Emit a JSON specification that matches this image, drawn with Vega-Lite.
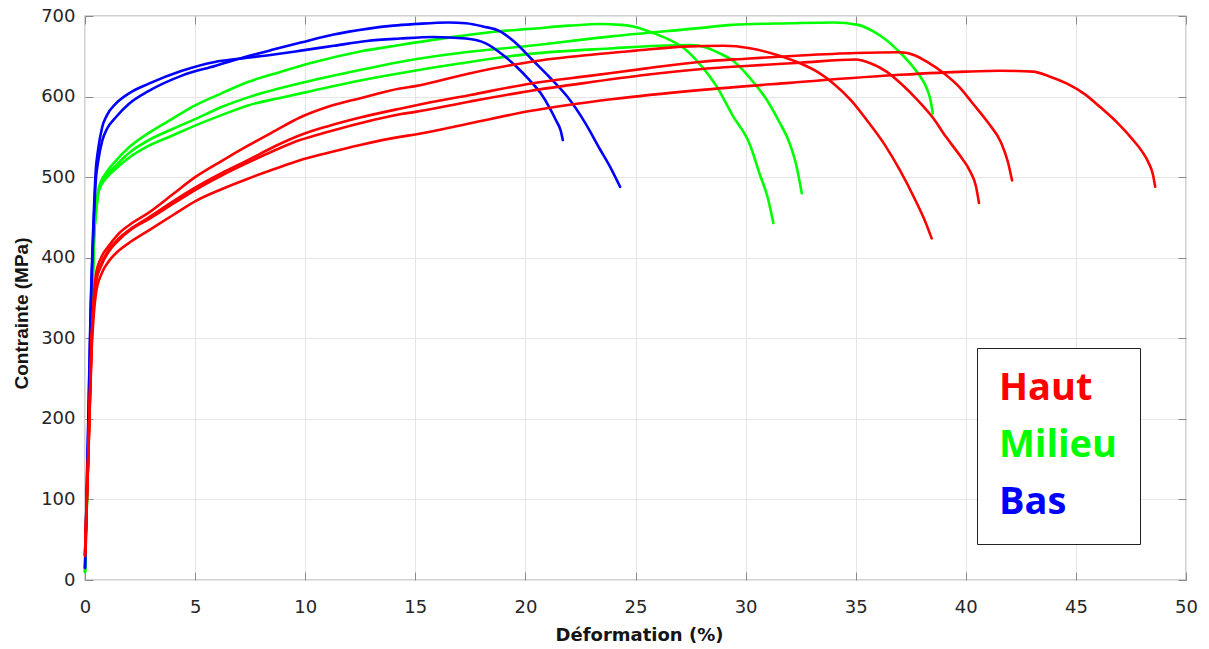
{
  "$schema": "https://vega.github.io/schema/vega-lite/v6.json",
  "width": 1101,
  "height": 564,
  "autosize": {"type": "none"},
  "padding": {"left": 85, "top": 16, "right": 23, "bottom": 69},
  "background": "white",
  "config": {
    "view": {"stroke": "#c4c4c4", "strokeWidth": 1.5},
    "axis": {"gridColor": "#e6e6e6", "gridWidth": 1, "tickColor": "#8a8a8a", "tickWidth": 1, "labelColor": "#262626", "titleColor": "#151515", "labelFlush": false}
  },
  "data": {"values": [
    {"groupe":"Milieu","essai":"M1","deformation":0,"contrainte":10},
    {"groupe":"Milieu","essai":"M1","deformation":0.15,"contrainte":160},
    {"groupe":"Milieu","essai":"M1","deformation":0.3,"contrainte":320},
    {"groupe":"Milieu","essai":"M1","deformation":0.42,"contrainte":430},
    {"groupe":"Milieu","essai":"M1","deformation":0.5,"contrainte":460},
    {"groupe":"Milieu","essai":"M1","deformation":0.63,"contrainte":487},
    {"groupe":"Milieu","essai":"M1","deformation":1.0,"contrainte":507},
    {"groupe":"Milieu","essai":"M1","deformation":1.39,"contrainte":520},
    {"groupe":"Milieu","essai":"M1","deformation":2.0,"contrainte":537},
    {"groupe":"Milieu","essai":"M1","deformation":2.9,"contrainte":555},
    {"groupe":"Milieu","essai":"M1","deformation":4.0,"contrainte":573},
    {"groupe":"Milieu","essai":"M1","deformation":5.0,"contrainte":589},
    {"groupe":"Milieu","essai":"M1","deformation":6.2,"contrainte":604},
    {"groupe":"Milieu","essai":"M1","deformation":7.4,"contrainte":618},
    {"groupe":"Milieu","essai":"M1","deformation":8.8,"contrainte":630},
    {"groupe":"Milieu","essai":"M1","deformation":10.3,"contrainte":642},
    {"groupe":"Milieu","essai":"M1","deformation":12.5,"contrainte":656},
    {"groupe":"Milieu","essai":"M1","deformation":14.3,"contrainte":664},
    {"groupe":"Milieu","essai":"M1","deformation":17.0,"contrainte":675},
    {"groupe":"Milieu","essai":"M1","deformation":18.8,"contrainte":681},
    {"groupe":"Milieu","essai":"M1","deformation":20.2,"contrainte":684},
    {"groupe":"Milieu","essai":"M1","deformation":22.0,"contrainte":688},
    {"groupe":"Milieu","essai":"M1","deformation":23.4,"contrainte":690},
    {"groupe":"Milieu","essai":"M1","deformation":24.3,"contrainte":689},
    {"groupe":"Milieu","essai":"M1","deformation":24.9,"contrainte":687},
    {"groupe":"Milieu","essai":"M1","deformation":25.7,"contrainte":680},
    {"groupe":"Milieu","essai":"M1","deformation":26.5,"contrainte":671},
    {"groupe":"Milieu","essai":"M1","deformation":27.2,"contrainte":660},
    {"groupe":"Milieu","essai":"M1","deformation":27.9,"contrainte":641},
    {"groupe":"Milieu","essai":"M1","deformation":28.7,"contrainte":612},
    {"groupe":"Milieu","essai":"M1","deformation":29.4,"contrainte":577},
    {"groupe":"Milieu","essai":"M1","deformation":30.2,"contrainte":540},
    {"groupe":"Milieu","essai":"M1","deformation":30.65,"contrainte":503},
    {"groupe":"Milieu","essai":"M1","deformation":31.0,"contrainte":475},
    {"groupe":"Milieu","essai":"M1","deformation":31.26,"contrainte":443},
    {"groupe":"Milieu","essai":"M2","deformation":0,"contrainte":10},
    {"groupe":"Milieu","essai":"M2","deformation":0.15,"contrainte":160},
    {"groupe":"Milieu","essai":"M2","deformation":0.3,"contrainte":320},
    {"groupe":"Milieu","essai":"M2","deformation":0.42,"contrainte":430},
    {"groupe":"Milieu","essai":"M2","deformation":0.5,"contrainte":458},
    {"groupe":"Milieu","essai":"M2","deformation":0.63,"contrainte":485},
    {"groupe":"Milieu","essai":"M2","deformation":1.0,"contrainte":503},
    {"groupe":"Milieu","essai":"M2","deformation":1.39,"contrainte":514},
    {"groupe":"Milieu","essai":"M2","deformation":2.0,"contrainte":530},
    {"groupe":"Milieu","essai":"M2","deformation":2.9,"contrainte":546},
    {"groupe":"Milieu","essai":"M2","deformation":4.0,"contrainte":560},
    {"groupe":"Milieu","essai":"M2","deformation":5.0,"contrainte":572},
    {"groupe":"Milieu","essai":"M2","deformation":6.2,"contrainte":587},
    {"groupe":"Milieu","essai":"M2","deformation":7.4,"contrainte":599},
    {"groupe":"Milieu","essai":"M2","deformation":8.8,"contrainte":610},
    {"groupe":"Milieu","essai":"M2","deformation":10.3,"contrainte":620},
    {"groupe":"Milieu","essai":"M2","deformation":12.5,"contrainte":633},
    {"groupe":"Milieu","essai":"M2","deformation":14.3,"contrainte":643},
    {"groupe":"Milieu","essai":"M2","deformation":17.0,"contrainte":654},
    {"groupe":"Milieu","essai":"M2","deformation":20.2,"contrainte":663},
    {"groupe":"Milieu","essai":"M2","deformation":24.0,"contrainte":675},
    {"groupe":"Milieu","essai":"M2","deformation":27.9,"contrainte":685},
    {"groupe":"Milieu","essai":"M2","deformation":29.4,"contrainte":689},
    {"groupe":"Milieu","essai":"M2","deformation":32.0,"contrainte":691},
    {"groupe":"Milieu","essai":"M2","deformation":34.0,"contrainte":692},
    {"groupe":"Milieu","essai":"M2","deformation":35.1,"contrainte":689},
    {"groupe":"Milieu","essai":"M2","deformation":35.8,"contrainte":681},
    {"groupe":"Milieu","essai":"M2","deformation":36.4,"contrainte":670},
    {"groupe":"Milieu","essai":"M2","deformation":37.0,"contrainte":655},
    {"groupe":"Milieu","essai":"M2","deformation":37.6,"contrainte":637},
    {"groupe":"Milieu","essai":"M2","deformation":38.0,"contrainte":622},
    {"groupe":"Milieu","essai":"M2","deformation":38.2,"contrainte":612},
    {"groupe":"Milieu","essai":"M2","deformation":38.4,"contrainte":595},
    {"groupe":"Milieu","essai":"M2","deformation":38.5,"contrainte":579},
    {"groupe":"Milieu","essai":"M3","deformation":0,"contrainte":10},
    {"groupe":"Milieu","essai":"M3","deformation":0.15,"contrainte":160},
    {"groupe":"Milieu","essai":"M3","deformation":0.3,"contrainte":320},
    {"groupe":"Milieu","essai":"M3","deformation":0.42,"contrainte":430},
    {"groupe":"Milieu","essai":"M3","deformation":0.5,"contrainte":456},
    {"groupe":"Milieu","essai":"M3","deformation":0.63,"contrainte":483},
    {"groupe":"Milieu","essai":"M3","deformation":1.0,"contrainte":500},
    {"groupe":"Milieu","essai":"M3","deformation":1.39,"contrainte":510},
    {"groupe":"Milieu","essai":"M3","deformation":2.0,"contrainte":524},
    {"groupe":"Milieu","essai":"M3","deformation":2.9,"contrainte":539},
    {"groupe":"Milieu","essai":"M3","deformation":4.0,"contrainte":552},
    {"groupe":"Milieu","essai":"M3","deformation":5.0,"contrainte":564},
    {"groupe":"Milieu","essai":"M3","deformation":6.2,"contrainte":577},
    {"groupe":"Milieu","essai":"M3","deformation":7.4,"contrainte":589},
    {"groupe":"Milieu","essai":"M3","deformation":8.8,"contrainte":598},
    {"groupe":"Milieu","essai":"M3","deformation":10.3,"contrainte":607},
    {"groupe":"Milieu","essai":"M3","deformation":12.5,"contrainte":620},
    {"groupe":"Milieu","essai":"M3","deformation":14.3,"contrainte":629},
    {"groupe":"Milieu","essai":"M3","deformation":17.0,"contrainte":641},
    {"groupe":"Milieu","essai":"M3","deformation":20.2,"contrainte":653},
    {"groupe":"Milieu","essai":"M3","deformation":24.0,"contrainte":660},
    {"groupe":"Milieu","essai":"M3","deformation":26.0,"contrainte":663},
    {"groupe":"Milieu","essai":"M3","deformation":27.5,"contrainte":664},
    {"groupe":"Milieu","essai":"M3","deformation":28.2,"contrainte":661},
    {"groupe":"Milieu","essai":"M3","deformation":28.8,"contrainte":654},
    {"groupe":"Milieu","essai":"M3","deformation":29.4,"contrainte":645},
    {"groupe":"Milieu","essai":"M3","deformation":30.2,"contrainte":623},
    {"groupe":"Milieu","essai":"M3","deformation":30.96,"contrainte":596},
    {"groupe":"Milieu","essai":"M3","deformation":31.5,"contrainte":570},
    {"groupe":"Milieu","essai":"M3","deformation":32.0,"contrainte":542},
    {"groupe":"Milieu","essai":"M3","deformation":32.3,"contrainte":515},
    {"groupe":"Milieu","essai":"M3","deformation":32.55,"contrainte":480},
    {"groupe":"Bas","essai":"B1","deformation":0,"contrainte":15},
    {"groupe":"Bas","essai":"B1","deformation":0.15,"contrainte":190},
    {"groupe":"Bas","essai":"B1","deformation":0.25,"contrainte":322},
    {"groupe":"Bas","essai":"B1","deformation":0.4,"contrainte":445},
    {"groupe":"Bas","essai":"B1","deformation":0.48,"contrainte":492},
    {"groupe":"Bas","essai":"B1","deformation":0.6,"contrainte":520},
    {"groupe":"Bas","essai":"B1","deformation":0.78,"contrainte":545},
    {"groupe":"Bas","essai":"B1","deformation":1.0,"contrainte":560},
    {"groupe":"Bas","essai":"B1","deformation":1.39,"contrainte":574},
    {"groupe":"Bas","essai":"B1","deformation":2.0,"contrainte":591},
    {"groupe":"Bas","essai":"B1","deformation":2.9,"contrainte":607},
    {"groupe":"Bas","essai":"B1","deformation":4.4,"contrainte":626},
    {"groupe":"Bas","essai":"B1","deformation":5.9,"contrainte":638},
    {"groupe":"Bas","essai":"B1","deformation":7.0,"contrainte":647},
    {"groupe":"Bas","essai":"B1","deformation":8.5,"contrainte":658},
    {"groupe":"Bas","essai":"B1","deformation":9.8,"contrainte":667},
    {"groupe":"Bas","essai":"B1","deformation":11.3,"contrainte":677},
    {"groupe":"Bas","essai":"B1","deformation":12.8,"contrainte":684},
    {"groupe":"Bas","essai":"B1","deformation":14.0,"contrainte":688},
    {"groupe":"Bas","essai":"B1","deformation":15.0,"contrainte":690},
    {"groupe":"Bas","essai":"B1","deformation":16.5,"contrainte":692},
    {"groupe":"Bas","essai":"B1","deformation":17.3,"contrainte":691},
    {"groupe":"Bas","essai":"B1","deformation":18.07,"contrainte":687},
    {"groupe":"Bas","essai":"B1","deformation":18.85,"contrainte":681},
    {"groupe":"Bas","essai":"B1","deformation":19.5,"contrainte":668},
    {"groupe":"Bas","essai":"B1","deformation":20.3,"contrainte":646},
    {"groupe":"Bas","essai":"B1","deformation":21.1,"contrainte":624},
    {"groupe":"Bas","essai":"B1","deformation":21.9,"contrainte":600},
    {"groupe":"Bas","essai":"B1","deformation":22.7,"contrainte":568},
    {"groupe":"Bas","essai":"B1","deformation":23.4,"contrainte":534},
    {"groupe":"Bas","essai":"B1","deformation":23.9,"contrainte":510},
    {"groupe":"Bas","essai":"B1","deformation":24.3,"contrainte":488},
    {"groupe":"Bas","essai":"B2","deformation":0,"contrainte":15},
    {"groupe":"Bas","essai":"B2","deformation":0.15,"contrainte":200},
    {"groupe":"Bas","essai":"B2","deformation":0.25,"contrainte":330},
    {"groupe":"Bas","essai":"B2","deformation":0.4,"contrainte":455},
    {"groupe":"Bas","essai":"B2","deformation":0.48,"contrainte":505},
    {"groupe":"Bas","essai":"B2","deformation":0.6,"contrainte":535},
    {"groupe":"Bas","essai":"B2","deformation":0.78,"contrainte":562},
    {"groupe":"Bas","essai":"B2","deformation":1.0,"contrainte":577},
    {"groupe":"Bas","essai":"B2","deformation":1.39,"contrainte":591},
    {"groupe":"Bas","essai":"B2","deformation":2.0,"contrainte":604},
    {"groupe":"Bas","essai":"B2","deformation":2.9,"contrainte":616},
    {"groupe":"Bas","essai":"B2","deformation":4.4,"contrainte":632},
    {"groupe":"Bas","essai":"B2","deformation":5.9,"contrainte":643},
    {"groupe":"Bas","essai":"B2","deformation":7.0,"contrainte":647},
    {"groupe":"Bas","essai":"B2","deformation":8.5,"contrainte":652},
    {"groupe":"Bas","essai":"B2","deformation":9.8,"contrainte":657},
    {"groupe":"Bas","essai":"B2","deformation":11.3,"contrainte":663},
    {"groupe":"Bas","essai":"B2","deformation":12.8,"contrainte":669},
    {"groupe":"Bas","essai":"B2","deformation":14.3,"contrainte":672},
    {"groupe":"Bas","essai":"B2","deformation":15.8,"contrainte":674},
    {"groupe":"Bas","essai":"B2","deformation":17.3,"contrainte":672},
    {"groupe":"Bas","essai":"B2","deformation":18.2,"contrainte":666},
    {"groupe":"Bas","essai":"B2","deformation":19.1,"contrainte":649},
    {"groupe":"Bas","essai":"B2","deformation":19.6,"contrainte":637},
    {"groupe":"Bas","essai":"B2","deformation":20.2,"contrainte":620},
    {"groupe":"Bas","essai":"B2","deformation":20.7,"contrainte":604},
    {"groupe":"Bas","essai":"B2","deformation":21.1,"contrainte":586},
    {"groupe":"Bas","essai":"B2","deformation":21.4,"contrainte":570},
    {"groupe":"Bas","essai":"B2","deformation":21.6,"contrainte":558},
    {"groupe":"Bas","essai":"B2","deformation":21.7,"contrainte":546},
    {"groupe":"Haut","essai":"H1","deformation":0,"contrainte":32},
    {"groupe":"Haut","essai":"H1","deformation":0.15,"contrainte":160},
    {"groupe":"Haut","essai":"H1","deformation":0.3,"contrainte":300},
    {"groupe":"Haut","essai":"H1","deformation":0.4,"contrainte":350},
    {"groupe":"Haut","essai":"H1","deformation":0.5,"contrainte":380},
    {"groupe":"Haut","essai":"H1","deformation":0.75,"contrainte":401},
    {"groupe":"Haut","essai":"H1","deformation":1.09,"contrainte":415},
    {"groupe":"Haut","essai":"H1","deformation":1.5,"contrainte":429},
    {"groupe":"Haut","essai":"H1","deformation":2.14,"contrainte":443},
    {"groupe":"Haut","essai":"H1","deformation":2.9,"contrainte":456},
    {"groupe":"Haut","essai":"H1","deformation":4.0,"contrainte":479},
    {"groupe":"Haut","essai":"H1","deformation":5.0,"contrainte":500},
    {"groupe":"Haut","essai":"H1","deformation":6.2,"contrainte":520},
    {"groupe":"Haut","essai":"H1","deformation":7.4,"contrainte":539},
    {"groupe":"Haut","essai":"H1","deformation":8.6,"contrainte":557},
    {"groupe":"Haut","essai":"H1","deformation":9.76,"contrainte":574},
    {"groupe":"Haut","essai":"H1","deformation":11.0,"contrainte":587},
    {"groupe":"Haut","essai":"H1","deformation":12.5,"contrainte":598},
    {"groupe":"Haut","essai":"H1","deformation":14.3,"contrainte":610},
    {"groupe":"Haut","essai":"H1","deformation":15.0,"contrainte":613},
    {"groupe":"Haut","essai":"H1","deformation":17.5,"contrainte":629},
    {"groupe":"Haut","essai":"H1","deformation":20.2,"contrainte":643},
    {"groupe":"Haut","essai":"H1","deformation":23.0,"contrainte":652},
    {"groupe":"Haut","essai":"H1","deformation":25.0,"contrainte":657},
    {"groupe":"Haut","essai":"H1","deformation":27.2,"contrainte":662},
    {"groupe":"Haut","essai":"H1","deformation":29.0,"contrainte":663},
    {"groupe":"Haut","essai":"H1","deformation":30.2,"contrainte":660},
    {"groupe":"Haut","essai":"H1","deformation":31.5,"contrainte":651},
    {"groupe":"Haut","essai":"H1","deformation":32.5,"contrainte":641},
    {"groupe":"Haut","essai":"H1","deformation":33.3,"contrainte":630},
    {"groupe":"Haut","essai":"H1","deformation":34.0,"contrainte":616},
    {"groupe":"Haut","essai":"H1","deformation":34.8,"contrainte":595},
    {"groupe":"Haut","essai":"H1","deformation":35.5,"contrainte":571},
    {"groupe":"Haut","essai":"H1","deformation":36.3,"contrainte":541},
    {"groupe":"Haut","essai":"H1","deformation":37.0,"contrainte":509},
    {"groupe":"Haut","essai":"H1","deformation":37.7,"contrainte":472},
    {"groupe":"Haut","essai":"H1","deformation":38.2,"contrainte":442},
    {"groupe":"Haut","essai":"H1","deformation":38.45,"contrainte":424},
    {"groupe":"Haut","essai":"H2","deformation":0,"contrainte":30},
    {"groupe":"Haut","essai":"H2","deformation":0.15,"contrainte":155},
    {"groupe":"Haut","essai":"H2","deformation":0.3,"contrainte":295},
    {"groupe":"Haut","essai":"H2","deformation":0.4,"contrainte":345},
    {"groupe":"Haut","essai":"H2","deformation":0.5,"contrainte":372},
    {"groupe":"Haut","essai":"H2","deformation":0.75,"contrainte":393},
    {"groupe":"Haut","essai":"H2","deformation":1.09,"contrainte":410},
    {"groupe":"Haut","essai":"H2","deformation":1.5,"contrainte":423},
    {"groupe":"Haut","essai":"H2","deformation":2.14,"contrainte":437},
    {"groupe":"Haut","essai":"H2","deformation":2.9,"contrainte":450},
    {"groupe":"Haut","essai":"H2","deformation":4.0,"contrainte":470},
    {"groupe":"Haut","essai":"H2","deformation":5.0,"contrainte":487},
    {"groupe":"Haut","essai":"H2","deformation":6.2,"contrainte":505},
    {"groupe":"Haut","essai":"H2","deformation":7.4,"contrainte":521},
    {"groupe":"Haut","essai":"H2","deformation":8.6,"contrainte":538},
    {"groupe":"Haut","essai":"H2","deformation":9.76,"contrainte":552},
    {"groupe":"Haut","essai":"H2","deformation":11.0,"contrainte":563},
    {"groupe":"Haut","essai":"H2","deformation":12.5,"contrainte":574},
    {"groupe":"Haut","essai":"H2","deformation":14.3,"contrainte":585},
    {"groupe":"Haut","essai":"H2","deformation":15.0,"contrainte":589},
    {"groupe":"Haut","essai":"H2","deformation":17.5,"contrainte":602},
    {"groupe":"Haut","essai":"H2","deformation":20.2,"contrainte":616},
    {"groupe":"Haut","essai":"H2","deformation":23.0,"contrainte":626},
    {"groupe":"Haut","essai":"H2","deformation":25.5,"contrainte":635},
    {"groupe":"Haut","essai":"H2","deformation":27.9,"contrainte":643},
    {"groupe":"Haut","essai":"H2","deformation":30.0,"contrainte":647},
    {"groupe":"Haut","essai":"H2","deformation":32.5,"contrainte":651},
    {"groupe":"Haut","essai":"H2","deformation":35.0,"contrainte":654},
    {"groupe":"Haut","essai":"H2","deformation":37.0,"contrainte":655},
    {"groupe":"Haut","essai":"H2","deformation":37.7,"contrainte":651},
    {"groupe":"Haut","essai":"H2","deformation":38.3,"contrainte":642},
    {"groupe":"Haut","essai":"H2","deformation":39.0,"contrainte":629},
    {"groupe":"Haut","essai":"H2","deformation":39.7,"contrainte":612},
    {"groupe":"Haut","essai":"H2","deformation":40.3,"contrainte":592},
    {"groupe":"Haut","essai":"H2","deformation":41.0,"contrainte":568},
    {"groupe":"Haut","essai":"H2","deformation":41.6,"contrainte":543},
    {"groupe":"Haut","essai":"H2","deformation":41.9,"contrainte":520},
    {"groupe":"Haut","essai":"H2","deformation":42.1,"contrainte":496},
    {"groupe":"Haut","essai":"H3","deformation":0,"contrainte":30},
    {"groupe":"Haut","essai":"H3","deformation":0.15,"contrainte":155},
    {"groupe":"Haut","essai":"H3","deformation":0.3,"contrainte":295},
    {"groupe":"Haut","essai":"H3","deformation":0.4,"contrainte":345},
    {"groupe":"Haut","essai":"H3","deformation":0.5,"contrainte":370},
    {"groupe":"Haut","essai":"H3","deformation":0.75,"contrainte":391},
    {"groupe":"Haut","essai":"H3","deformation":1.09,"contrainte":408},
    {"groupe":"Haut","essai":"H3","deformation":1.5,"contrainte":421},
    {"groupe":"Haut","essai":"H3","deformation":2.14,"contrainte":436},
    {"groupe":"Haut","essai":"H3","deformation":2.9,"contrainte":448},
    {"groupe":"Haut","essai":"H3","deformation":4.0,"contrainte":467},
    {"groupe":"Haut","essai":"H3","deformation":5.0,"contrainte":484},
    {"groupe":"Haut","essai":"H3","deformation":6.2,"contrainte":502},
    {"groupe":"Haut","essai":"H3","deformation":7.4,"contrainte":518},
    {"groupe":"Haut","essai":"H3","deformation":8.6,"contrainte":533},
    {"groupe":"Haut","essai":"H3","deformation":9.76,"contrainte":546},
    {"groupe":"Haut","essai":"H3","deformation":11.0,"contrainte":556},
    {"groupe":"Haut","essai":"H3","deformation":12.5,"contrainte":567},
    {"groupe":"Haut","essai":"H3","deformation":14.3,"contrainte":578},
    {"groupe":"Haut","essai":"H3","deformation":15.0,"contrainte":581},
    {"groupe":"Haut","essai":"H3","deformation":17.5,"contrainte":594},
    {"groupe":"Haut","essai":"H3","deformation":20.2,"contrainte":607},
    {"groupe":"Haut","essai":"H3","deformation":23.0,"contrainte":618},
    {"groupe":"Haut","essai":"H3","deformation":25.5,"contrainte":627},
    {"groupe":"Haut","essai":"H3","deformation":27.9,"contrainte":634},
    {"groupe":"Haut","essai":"H3","deformation":30.0,"contrainte":638},
    {"groupe":"Haut","essai":"H3","deformation":32.5,"contrainte":642},
    {"groupe":"Haut","essai":"H3","deformation":35.0,"contrainte":646},
    {"groupe":"Haut","essai":"H3","deformation":35.7,"contrainte":641},
    {"groupe":"Haut","essai":"H3","deformation":36.4,"contrainte":631},
    {"groupe":"Haut","essai":"H3","deformation":37.1,"contrainte":615},
    {"groupe":"Haut","essai":"H3","deformation":37.8,"contrainte":596},
    {"groupe":"Haut","essai":"H3","deformation":38.5,"contrainte":574},
    {"groupe":"Haut","essai":"H3","deformation":39.1,"contrainte":550},
    {"groupe":"Haut","essai":"H3","deformation":39.7,"contrainte":528},
    {"groupe":"Haut","essai":"H3","deformation":40.2,"contrainte":507},
    {"groupe":"Haut","essai":"H3","deformation":40.45,"contrainte":490},
    {"groupe":"Haut","essai":"H3","deformation":40.6,"contrainte":468},
    {"groupe":"Haut","essai":"H4","deformation":0,"contrainte":30},
    {"groupe":"Haut","essai":"H4","deformation":0.15,"contrainte":150},
    {"groupe":"Haut","essai":"H4","deformation":0.3,"contrainte":285},
    {"groupe":"Haut","essai":"H4","deformation":0.4,"contrainte":330},
    {"groupe":"Haut","essai":"H4","deformation":0.5,"contrainte":356},
    {"groupe":"Haut","essai":"H4","deformation":0.75,"contrainte":380},
    {"groupe":"Haut","essai":"H4","deformation":1.09,"contrainte":396},
    {"groupe":"Haut","essai":"H4","deformation":1.5,"contrainte":408},
    {"groupe":"Haut","essai":"H4","deformation":2.14,"contrainte":421},
    {"groupe":"Haut","essai":"H4","deformation":2.9,"contrainte":434},
    {"groupe":"Haut","essai":"H4","deformation":4.0,"contrainte":453},
    {"groupe":"Haut","essai":"H4","deformation":5.0,"contrainte":470},
    {"groupe":"Haut","essai":"H4","deformation":6.2,"contrainte":485},
    {"groupe":"Haut","essai":"H4","deformation":7.4,"contrainte":498},
    {"groupe":"Haut","essai":"H4","deformation":8.6,"contrainte":510},
    {"groupe":"Haut","essai":"H4","deformation":9.76,"contrainte":521},
    {"groupe":"Haut","essai":"H4","deformation":11.0,"contrainte":530},
    {"groupe":"Haut","essai":"H4","deformation":12.5,"contrainte":540},
    {"groupe":"Haut","essai":"H4","deformation":14.3,"contrainte":550},
    {"groupe":"Haut","essai":"H4","deformation":15.0,"contrainte":553},
    {"groupe":"Haut","essai":"H4","deformation":17.5,"contrainte":567},
    {"groupe":"Haut","essai":"H4","deformation":20.2,"contrainte":582},
    {"groupe":"Haut","essai":"H4","deformation":24.0,"contrainte":597},
    {"groupe":"Haut","essai":"H4","deformation":27.9,"contrainte":608},
    {"groupe":"Haut","essai":"H4","deformation":32.0,"contrainte":617},
    {"groupe":"Haut","essai":"H4","deformation":37.0,"contrainte":627},
    {"groupe":"Haut","essai":"H4","deformation":40.0,"contrainte":631},
    {"groupe":"Haut","essai":"H4","deformation":41.55,"contrainte":632},
    {"groupe":"Haut","essai":"H4","deformation":43.05,"contrainte":631},
    {"groupe":"Haut","essai":"H4","deformation":43.8,"contrainte":625},
    {"groupe":"Haut","essai":"H4","deformation":44.6,"contrainte":616},
    {"groupe":"Haut","essai":"H4","deformation":45.4,"contrainte":603},
    {"groupe":"Haut","essai":"H4","deformation":46.1,"contrainte":587},
    {"groupe":"Haut","essai":"H4","deformation":46.9,"contrainte":567},
    {"groupe":"Haut","essai":"H4","deformation":47.6,"contrainte":546},
    {"groupe":"Haut","essai":"H4","deformation":48.0,"contrainte":532},
    {"groupe":"Haut","essai":"H4","deformation":48.3,"contrainte":518},
    {"groupe":"Haut","essai":"H4","deformation":48.5,"contrainte":503},
    {"groupe":"Haut","essai":"H4","deformation":48.6,"contrainte":488}
  ]},
  "layer": [
    {
      "mark": {"type": "line", "strokeWidth": 2.6, "strokeJoin": "round", "strokeCap": "round", "interpolate": "monotone"},
      "encoding": {
        "x": {
          "field": "deformation", "type": "quantitative",
          "scale": {"domain": [0, 50], "nice": false, "zero": false},
          "axis": {
            "values": [0, 5, 10, 15, 20, 25, 30, 35, 40, 45, 50],
            "title": "Déformation (%)", "grid": true, "domain": false, "labelFlush": false,
            "tickSize": -8, "labelPadding": 26, "labelFont": "DejaVu Sans", "labelFontSize": 18,
            "titleFont": "DejaVu Sans", "titleFontSize": 18, "titleFontWeight": "bold",
            "titleX": 554, "titleY": 60, "titleBaseline": "alphabetic"
          }
        },
        "y": {
          "field": "contrainte", "type": "quantitative",
          "scale": {"domain": [0, 700], "nice": false, "zero": true},
          "axis": {
            "values": [0, 100, 200, 300, 400, 500, 600, 700],
            "title": "Contrainte (MPa)", "grid": true, "domain": false, "labelFlush": false,
            "tickSize": -8, "labelPadding": 18, "labelFont": "DejaVu Sans", "labelFontSize": 18,
            "titleFont": "Liberation Sans", "titleFontSize": 19, "titleFontWeight": "bold",
            "titleAngle": -90, "titleX": -64, "titleY": 297, "titleBaseline": "middle"
          }
        },
        "color": {
          "field": "groupe", "type": "nominal",
          "scale": {"domain": ["Haut", "Milieu", "Bas"], "range": ["#ff0000", "#00ff00", "#0000ff"]},
          "legend": {
            "orient": "none", "legendX": 892, "legendY": 332, "title": null,
            "padding": 22, "strokeColor": "#222222", "fillColor": "#ffffff",
            "labelFont": "Open Sans", "labelFontSize": 38, "labelFontWeight": "bold",
            "symbolSize": 0, "symbolStrokeWidth": 0, "symbolOpacity": 0, "labelOffset": -38,
            "rowPadding": 19,
            "encode": {
              "labels": {"update": {"fill": {"scale": "color", "field": "value"}}}
            }
          }
        },
        "detail": {"field": "essai"}
      }
    },
    {
      "mark": {"type": "line", "strokeOpacity": 0},
      "encoding": {
        "x": {
          "field": "deformation", "type": "quantitative",
          "axis": {"orient": "top", "values": [0, 5, 10, 15, 20, 25, 30, 35, 40, 45, 50], "labels": false, "title": null, "grid": false, "domain": false, "tickSize": -8}
        },
        "y": {
          "field": "contrainte", "type": "quantitative",
          "axis": {"orient": "right", "values": [0, 100, 200, 300, 400, 500, 600, 700], "labels": false, "title": null, "grid": false, "domain": false, "tickSize": -8}
        },
        "detail": {"field": "essai"}
      }
    }
  ],
  "resolve": {"axis": {"x": "independent", "y": "independent"}}
}
